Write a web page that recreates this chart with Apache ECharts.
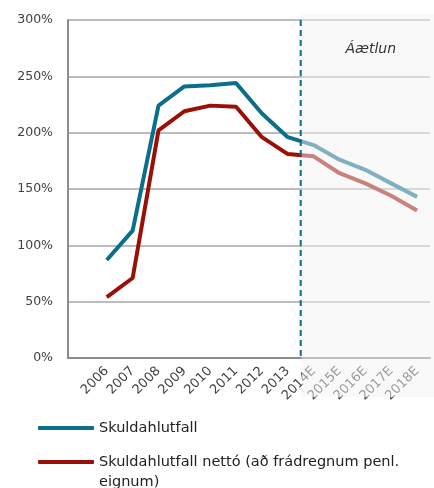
<!DOCTYPE html>
<html>
<head>
<meta charset="utf-8">
<script src="https://cdn.jsdelivr.net/npm/echarts@6/dist/echarts.min.js"></script>
<style>html,body{margin:0;padding:0;background:#fff}#c{width:434px;height:488px}</style>
</head>
<body>
<div id="c"></div>
<script>
const categories = ['2006','2007','2008','2009','2010','2011','2012','2013','2014E','2015E','2016E','2017E','2018E'];
const skuldahlutfall = [87, 113, 224, 241, 242, 244, 217, 196, 189, 176, 167, 155, 143];
const skuldahlutfallNetto = [54, 71, 202, 219, 224, 223, 196, 181, 179, 164, 155, 144, 131];
const yTicks = [0, 50, 100, 150, 200, 250, 300];
const name1 = 'Skuldahlutfall';
const name2 = 'Skuldahlutfall nettó (að frádregnum penl. eignum)';
const forecastLabel = 'Áætlun';

const FONT = 'DejaVu Sans';
const chart = echarts.init(document.getElementById('c'), null, {renderer: 'canvas'});
const xData = [''].concat(categories);
const s1 = [null].concat(skuldahlutfall);
const s2 = [null].concat(skuldahlutfallNetto);

const legendCommon = {
  orient: 'vertical', left: 33, itemWidth: 56, itemHeight: 4, icon: 'roundRect', padding: 5
};

chart.setOption({
  animation: false,
  textStyle: {fontFamily: FONT},
  grid: {left: 68, right: 4, top: 20, bottom: 130, containLabel: false},
  xAxis: {
    type: 'category', data: xData, boundaryGap: true,
    axisLine: {show: true, lineStyle: {color: '#8c8c8c', width: 2}},
    axisTick: {show: false},
    axisLabel: {rotate: 45, fontSize: 13, color: '#404040', fontFamily: FONT, interval: 0, margin: 11}
  },
  yAxis: {
    type: 'value', min: yTicks[0], max: yTicks[yTicks.length-1], interval: 50,
    axisLine: {show: true, lineStyle: {color: '#8c8c8c', width: 2}},
    axisTick: {show: false},
    axisLabel: {formatter: '{value}%', fontSize: 12.5, color: '#404040', fontFamily: FONT, margin: 15},
    splitLine: {lineStyle: {color: '#a6a6a6', width: 1.5}}
  },
  legend: [
    Object.assign({}, legendCommon, {
      top: 414, data: [name1],
      textStyle: {fontSize: 14.5, color: '#222', fontFamily: FONT, lineHeight: 18}
    }),
    Object.assign({}, legendCommon, {
      top: 427, data: [name2],
      formatter: function () { return '\nSkuldahlutfall nettó (að frádregnum penl.\neignum)'; },
      textStyle: {fontSize: 14.5, color: '#222', fontFamily: FONT, lineHeight: 20}
    })
  ],
  series: [
    {name: name1, type: 'line', data: s1, showSymbol: false, symbol: 'none',
     lineStyle: {color: '#0b6e8a', width: 4}, itemStyle: {color: '#0b6e8a'}, z: 3},
    {name: name2, type: 'line', data: s2, showSymbol: false, symbol: 'none',
     lineStyle: {color: '#9a1006', width: 4}, itemStyle: {color: '#9a1006'}, z: 2}
  ]
});

const xa = chart.convertToPixel({xAxisIndex: 0}, categories[7]);
const xb = chart.convertToPixel({xAxisIndex: 0}, categories[8]);
const xm = (xa + xb) / 2;
const yTop = chart.convertToPixel({yAxisIndex: 0}, 300);
const yBot = chart.convertToPixel({yAxisIndex: 0}, 0);

chart.setOption({
  graphic: [
    {type: 'rect', z: 100, silent: true,
     shape: {x: xm + 1, y: yTop - 6, width: 434 - xm, height: yBot - yTop + 45},
     style: {fill: 'rgba(243,243,243,0.5)'}},
    {type: 'line', z: 101, silent: true,
     shape: {x1: xm, y1: yTop, x2: xm, y2: yBot},
     style: {stroke: '#0b6e8a', lineWidth: 2, lineDash: [6, 4]}},
    {type: 'text', z: 102, silent: true, x: xm + 70, y: yTop + 29,
     style: {text: forecastLabel, fontFamily: FONT, fontStyle: 'italic', fontSize: 14, fill: '#333', align: 'center', verticalAlign: 'middle'}}
  ]
});
</script>
</body>
</html>
